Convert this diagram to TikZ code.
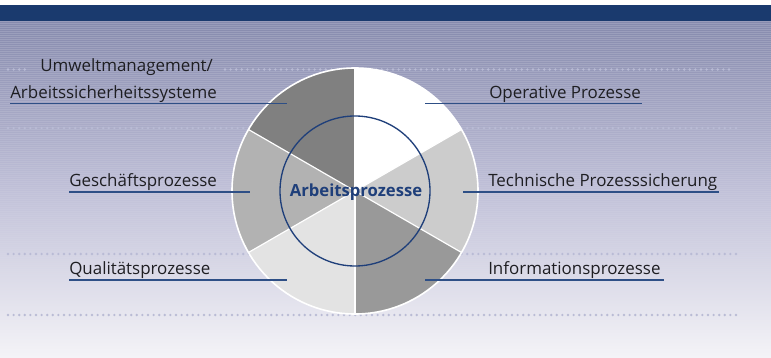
\documentclass[tikz,border=0pt]{standalone}
\usepackage{fontspec}
\setmainfont{Open Sans}
\definecolor{band}{HTML}{1A3A6E}
\definecolor{ulblue}{HTML}{2E4F86}
\definecolor{dotc}{HTML}{B9BBD5}
\definecolor{txt}{HTML}{1E1E22}
\definecolor{titleblue}{HTML}{1F3F7A}
\definecolor{bgtop}{HTML}{868AAD}
\definecolor{bgmid}{HTML}{C0C0D8}
\definecolor{bgbot}{HTML}{F4F3F7}
\definecolor{sA}{HTML}{FFFFFF}
\definecolor{sB}{HTML}{CCCCCC}
\definecolor{sC}{HTML}{999999}
\definecolor{sD}{HTML}{E3E3E3}
\definecolor{sE}{HTML}{B2B2B2}
\definecolor{sF}{HTML}{808080}
\begin{document}
\begin{tikzpicture}[x=0.75pt,y=0.75pt,
  lbl/.style={font=\fontsize{12.7pt}{14pt}\selectfont, text=txt, anchor=base west, inner sep=0pt},
  uline/.style={draw=ulblue, line width=1pt},
  dotline/.style={draw=dotc, line width=2pt, line cap=round, dash pattern=on 0pt off 4.2pt},
  sector/.style={draw=white, line width=0.9pt}]
\useasboundingbox (0,0) rectangle (771,357);
% background
\fill[white] (0,0) rectangle (771,357);
\shade[top color=bgtop, bottom color=bgbot, middle color=bgmid] (0,0) rectangle (771,336);
\foreach \i in {0,...,150} {
  \pgfmathsetmacro{\op}{0.16*(1-\i/155)}
  \draw[white, opacity=\op, line width=0.75pt] (0,{335-2*\i}) -- (771,{335-2*\i});
}
\fill[band] (0,336) rectangle (771,352);
% dotted guide lines
\draw[dotline] (8,287.5) -- (30,287.5);
\draw[dotline] (225,287.5) -- (732,287.5);
\draw[dotline] (8,229) -- (738,229);
\draw[dotline] (8,103) -- (738,103);
\draw[dotline] (8,42) -- (738,42);
% pie
\coordinate (c) at (355,166);
\fill[sA] (c) -- ++(30:123) arc[start angle=30, end angle=90, radius=123] -- cycle;
\fill[sB] (c) -- ++(-30:123) arc[start angle=-30, end angle=30, radius=123] -- cycle;
\fill[sC] (c) -- ++(-90:123) arc[start angle=-90, end angle=-30, radius=123] -- cycle;
\fill[sD] (c) -- ++(210:123) arc[start angle=210, end angle=270, radius=123] -- cycle;
\fill[sE] (c) -- ++(150:123) arc[start angle=150, end angle=210, radius=123] -- cycle;
\fill[sF] (c) -- ++(90:123) arc[start angle=90, end angle=150, radius=123] -- cycle;
\foreach \a in {30,90,150,210,270,330} \draw[sector] (c) -- ++(\a:123);
\draw[white, line width=1.2pt] (c) circle[radius=123];
\draw[titleblue, line width=1pt] (c) circle[radius=75];
\node[font=\fontsize{12.5pt}{14pt}\selectfont\bfseries, text=titleblue, anchor=base, inner sep=0pt] (center) at (356,160) {Arbeitsprozesse};
% labels
\node[lbl] (umw) at (40,285) {Umweltmanagement/};
\node[lbl] (arb) at (10,258.5) {Arbeitssicherheitssysteme};
\node[lbl] (ope) at (489,258.5) {Operative Prozesse};
\node[lbl] (ges) at (69,170) {Geschäftsprozesse};
\node[lbl] (tec) at (488,170) {Technische Prozesssicherung};
\node[lbl] (qua) at (69,82) {Qualitätsprozesse};
\node[lbl] (inf) at (488,82) {Informationsprozesse};
% underlines
\coordinate (u1a) at (10,253.5);  \coordinate (u1b) at (287,253.5);
\coordinate (u2a) at (425,253.5); \coordinate (u2b) at (642,253.5);
\coordinate (u3a) at (69,165);    \coordinate (u3b) at (250,165);
\coordinate (u4a) at (463,165);   \coordinate (u4b) at (719,165);
\coordinate (u5a) at (69,77);     \coordinate (u5b) at (287,77);
\coordinate (u6a) at (425,77);    \coordinate (u6b) at (664,77);
\draw[uline] (u1a) -- (u1b);
\draw[uline] (u2a) -- (u2b);
\draw[uline] (u3a) -- (u3b);
\draw[uline] (u4a) -- (u4b);
\draw[uline] (u5a) -- (u5b);
\draw[uline] (u6a) -- (u6b);
\end{tikzpicture}
\end{document}
